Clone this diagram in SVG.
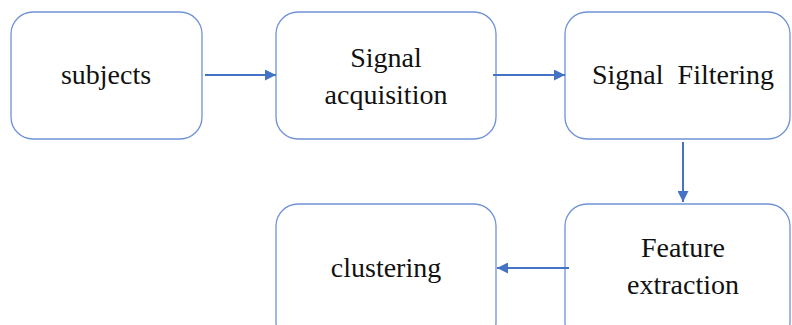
<svg xmlns="http://www.w3.org/2000/svg" width="792" height="325" viewBox="0 0 792 325">
<style>
.box{fill:#ffffff;stroke:#6f93d6;stroke-width:1.3}
.conn{stroke:#4472c4;stroke-width:2;fill:none;marker-end:url(#ah)}
</style>
<defs>
<marker id="ah" viewBox="0 0 10 10" refX="10" refY="5" markerWidth="5.5" markerHeight="5.5" orient="auto" markerUnits="strokeWidth">
<path d="M0,0 L10,5 L0,10 z" fill="#4472c4"/>
</marker>
</defs>
<rect width="792" height="325" fill="#ffffff"/>
<g font-family="Liberation Serif, Times New Roman, DejaVu Serif, serif" font-size="28" fill="#111111" text-anchor="middle">
<g id="subjects">
<rect class="box" x="11" y="12" width="191" height="127" rx="22"/>
<text x="106" y="84">subjects</text>
</g>
<g id="signal-acquisition">
<rect class="box" x="276" y="12" width="220" height="127" rx="22"/>
<text x="386" y="67">Signal</text>
<text x="386" y="104">acquisition</text>
</g>
<g id="signal-filtering">
<rect class="box" x="565" y="12" width="225" height="127" rx="22"/>
<text x="683" y="84" xml:space="preserve">Signal  Filtering</text>
</g>
<g id="feature-extraction">
<rect class="box" x="565" y="204" width="225" height="140" rx="22"/>
<text x="683" y="257">Feature</text>
<text x="683" y="294">extraction</text>
</g>
<g id="clustering">
<rect class="box" x="276" y="204" width="220" height="140" rx="22"/>
<text x="386" y="277">clustering</text>
</g>
</g>
<g id="connectors">
<line class="conn" x1="205" y1="75" x2="276" y2="75"/>
<line class="conn" x1="493" y1="75" x2="565" y2="75"/>
<line class="conn" x1="683" y1="142" x2="683" y2="202"/>
<line class="conn" x1="569" y1="268" x2="497" y2="268"/>
</g>
</svg>
